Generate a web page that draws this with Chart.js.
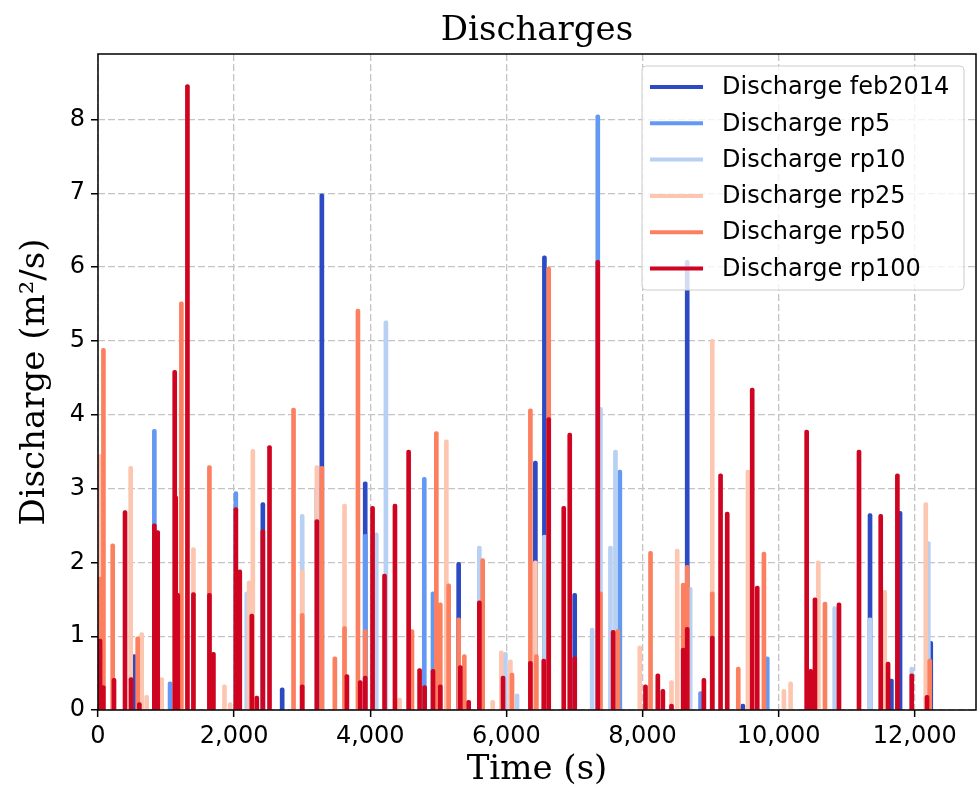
<!DOCTYPE html>
<html>
<head>
<meta charset="utf-8">
<script src="https://cdn.jsdelivr.net/npm/chart.js@4/dist/chart.umd.min.js"></script>
<style>
html, body { margin: 0; padding: 0; background: #fff; }
</style>
</head>
<body>
<canvas id="chart" width="977" height="790"></canvas>
<script>
// series names and colours (legend order)
var seriesNames = ["Discharge feb2014", "Discharge rp5", "Discharge rp10", "Discharge rp25", "Discharge rp50", "Discharge rp100"];
var seriesColors = ["#2b4ac3", "#6399f2", "#b7d0f4", "#fdc6b0", "#fc8060", "#cf0420"];

// peak times (s) and discharges (m2/s)
var feb2014Time = [534, 2422, 2706, 3289, 3926, 5299, 6426, 6559, 7004, 8657, 9475, 11343, 11657, 11784, 12235];
var feb2014Q = [0.75, 2.81, 0.30, 6.99, 3.09, 2.00, 3.37, 6.15, 1.58, 6.09, 0.08, 2.66, 0.42, 2.69, 0.93];

var rp5Time = [828, 1059, 2025, 3216, 3926, 4794, 4922, 7343, 7667, 8853, 9833];
var rp5Q = [3.80, 0.38, 2.96, 3.00, 2.38, 3.15, 1.60, 8.06, 3.25, 0.25, 0.72];

var rp10Time = [1637, 2186, 3000, 4088, 4230, 5603, 5985, 6157, 6559, 7260, 7382, 7529, 7603, 8700, 10824, 11343, 11956, 12200];
var rp10Q = [1.93, 1.60, 2.65, 2.40, 5.27, 2.22, 0.78, 0.22, 2.37, 1.11, 4.10, 2.22, 3.52, 1.66, 1.40, 1.25, 0.58, 2.28];

var rp25Time = [30, 480, 642, 715, 936, 1402, 1858, 1941, 2220, 2275, 3000, 3216, 3622, 4431, 5118, 5799, 5926, 6059, 6426, 7960, 8426, 8510, 9025, 9549, 10078, 10176, 10584, 11559, 12162];
var rp25Q = [3.46, 3.30, 1.05, 0.20, 0.44, 2.20, 0.34, 0.10, 1.75, 3.53, 1.90, 3.31, 2.79, 0.16, 3.66, 0.13, 0.80, 0.68, 2.02, 0.87, 0.40, 2.18, 5.02, 3.25, 0.28, 0.38, 2.02, 1.62, 2.81];

var rp50Time = [30, 80, 216, 583, 1225, 1637, 2873, 3000, 3289, 3480, 3622, 3819, 3926, 4613, 4971, 5029, 5152, 5299, 5382, 5652, 6083, 6353, 6441, 6622, 7382, 7637, 8118, 8598, 8657, 9025, 9407, 9784, 10681, 12220];
var rp50Q = [1.80, 4.90, 2.25, 0.99, 5.53, 3.31, 4.09, 1.31, 3.30, 0.72, 1.13, 5.43, 1.09, 1.09, 3.77, 1.45, 1.71, 1.25, 0.75, 2.05, 0.50, 4.08, 0.75, 6.00, 1.60, 1.09, 2.15, 1.72, 1.96, 1.60, 0.58, 2.14, 1.46, 0.69];

var rp100Time = [30, 78, 235, 397, 485, 608, 828, 877, 1127, 1142, 1172, 1314, 1402, 1637, 1696, 2025, 2083, 2260, 2333, 2422, 2520, 3000, 3216, 3657, 3853, 3926, 4034, 4210, 4363, 4564, 4725, 4799, 4922, 5029, 5323, 5446, 5603, 5951, 6353, 6549, 6622, 6843, 6931, 7004, 7343, 7569, 8044, 8225, 8299, 8426, 8598, 8657, 8902, 9025, 9147, 9245, 9612, 9686, 10412, 10471, 10534, 10887, 11181, 11500, 11608, 11745, 11956, 12180];
var rp100Q = [0.96, 0.33, 0.43, 2.70, 0.44, 0.10, 2.52, 2.43, 4.60, 2.90, 1.58, 8.47, 1.59, 1.58, 0.78, 2.74, 1.90, 1.30, 0.19, 2.44, 3.58, 0.34, 2.58, 0.48, 0.40, 0.46, 2.76, 1.84, 2.79, 3.52, 0.56, 0.33, 0.55, 0.34, 0.60, 0.13, 1.48, 0.46, 0.66, 0.69, 3.96, 2.76, 3.75, 0.72, 6.09, 1.08, 0.34, 0.49, 0.28, 0.08, 0.84, 1.12, 0.43, 1.00, 3.20, 2.68, 4.36, 1.68, 3.79, 0.55, 1.52, 1.45, 3.52, 2.65, 0.65, 3.20, 0.49, 0.20];

var xTicks = [0, 2000, 4000, 6000, 8000, 10000, 12000];
var yTicks = [0, 1, 2, 3, 4, 5, 6, 7, 8];

var allTimes = [feb2014Time, rp5Time, rp10Time, rp25Time, rp50Time, rp100Time];
var allQ = [feb2014Q, rp5Q, rp10Q, rp25Q, rp50Q, rp100Q];

function toPoints(times, values) {
    return times.map(function (t, i) {
        return { x: t, y: values[i] };
    });
}

var datasets = seriesNames.map(function (name, k) {
    return {
        label: name,
        data: toPoints(allTimes[k], allQ[k]),
        backgroundColor: seriesColors[k],
        borderWidth: 0,
        barThickness: 4,
        borderRadius: 2,
        stack: "all",
        // later series are painted on top
        order: seriesNames.length - k
    };
});

var serif = "'DejaVu Serif', serif";
var sans = "'DejaVu Sans', sans-serif";

// title centred over the plot area, like matplotlib
var plotTitle = {
    id: "plotTitle",
    afterDraw: function (chart) {
        var a = chart.chartArea;
        var ctx = chart.ctx;
        ctx.save();
        ctx.font = "34px " + serif;
        ctx.fillStyle = "#000";
        ctx.textAlign = "center";
        ctx.textBaseline = "alphabetic";
        ctx.fillText("Discharges", (a.left + a.right) / 2, 40);
        ctx.restore();
    }
};

var framePlugin = {
    id: "frame",
    afterDatasetsDraw: function (chart) {
        var a = chart.chartArea;
        var ctx = chart.ctx;
        ctx.save();
        ctx.strokeStyle = "#000";
        ctx.lineWidth = 1.5;
        ctx.strokeRect(a.left, a.top, a.right - a.left, a.bottom - a.top);
        ctx.restore();
    }
};

var boxLegend = {
    id: "boxLegend",
    afterDraw: function (chart) {
        var a = chart.chartArea;
        var ctx = chart.ctx;
        var w = 322, h = 224;
        var x0 = a.right - 12 - w;
        var y0 = a.top + 12;
        ctx.save();
        ctx.beginPath();
        ctx.roundRect(x0, y0, w, h, 4);
        ctx.fillStyle = "rgba(255,255,255,0.8)";
        ctx.fill();
        ctx.strokeStyle = "#cccccc";
        ctx.lineWidth = 1;
        ctx.stroke();
        ctx.font = "24px " + sans;
        ctx.textBaseline = "middle";
        seriesNames.forEach(function (name, k) {
            var y = y0 + 21 + k * 36.3;
            ctx.strokeStyle = seriesColors[k];
            ctx.lineWidth = 4;
            ctx.beginPath();
            ctx.moveTo(x0 + 8, y);
            ctx.lineTo(x0 + 61, y);
            ctx.stroke();
            ctx.fillStyle = "#000";
            ctx.fillText(name, x0 + 80, y + 1);
        });
        ctx.restore();
    }
};

new Chart(document.getElementById("chart"), {
    type: "bar",
    data: { datasets: datasets },
    options: {
        responsive: false,
        animation: false,
        events: [],
        layout: { padding: { top: 54, right: 1 } },
        plugins: {
            legend: { display: false },
            tooltip: { enabled: false },
            title: { display: false }
        },
        scales: {
            x: {
                type: "linear",
                min: 0,
                max: 12900,
                offset: false,
                afterFit: function (s) { s.height = 80; },
                afterBuildTicks: function (s) {
                    s.ticks = xTicks.map(function (v) { return { value: v }; });
                },
                ticks: {
                    color: "#000",
                    font: { family: sans, size: 24 },
                    padding: 5,
                    maxRotation: 0,
                    callback: function (v) { return v.toLocaleString("en-US"); }
                },
                grid: {
                    offset: false,
                    color: "#c4c4c4",
                    lineWidth: 1.3,
                    tickColor: "#000",
                    tickWidth: 1.5,
                    tickLength: 7,
                    tickBorderDash: [1, 0]
                },
                border: { display: false, dash: [7, 3] },
                title: {
                    display: true,
                    text: "Time (s)",
                    color: "#000",
                    font: { family: serif, size: 34, weight: "normal" },
                    padding: { top: 0, bottom: -1 }
                }
            },
            y: {
                min: 0,
                max: 8.885,
                stacked: false,
                afterFit: function (s) { s.width = 98; },
                afterBuildTicks: function (s) {
                    s.ticks = yTicks.map(function (v) { return { value: v }; });
                },
                ticks: {
                    color: "#000",
                    font: { family: sans, size: 24 },
                    padding: 6
                },
                grid: {
                    color: "#c4c4c4",
                    lineWidth: 1.3,
                    tickColor: "#000",
                    tickWidth: 1.5,
                    tickLength: 7,
                    tickBorderDash: [1, 0]
                },
                border: { display: false, dash: [7, 3] },
                title: {
                    display: true,
                    text: "Discharge (m²/s)",
                    color: "#000",
                    font: { family: serif, size: 34, weight: "normal" },
                    padding: { top: 15, bottom: 0 }
                }
            }
        }
    },
    plugins: [framePlugin, boxLegend, plotTitle]
});
</script>
</body>
</html>
